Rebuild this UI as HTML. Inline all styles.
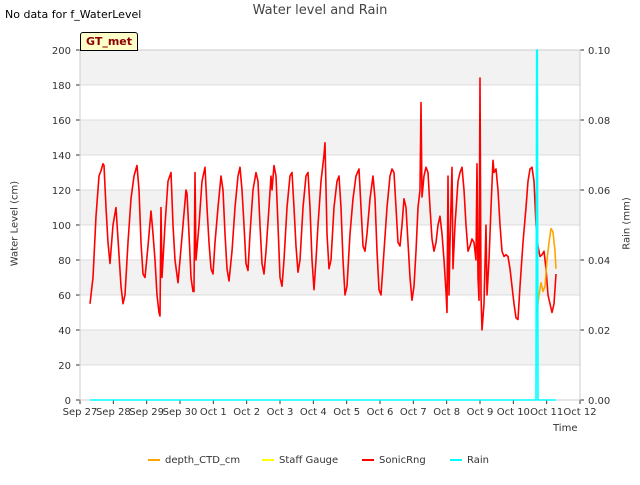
<!DOCTYPE html>
<html><head><meta charset="utf-8"><style>
body{margin:0;background:#fff;font-family:"Liberation Sans","DejaVu Sans",sans-serif;}
svg text{font-family:"DejaVu Sans","Liberation Sans",sans-serif;}
</style></head><body>
<svg id="chart" width="640" height="480" xmlns="http://www.w3.org/2000/svg"></svg>
<script>
const xTickLabels=["Sep 27","Sep 28","Sep 29","Sep 30","Oct 1","Oct 2","Oct 3","Oct 4","Oct 5","Oct 6","Oct 7","Oct 8","Oct 9","Oct 10","Oct 11","Oct 12"];
const yTicks=[0,20,40,60,80,100,120,140,160,180,200];
const y2Ticks=[0,0.02,0.04,0.06,0.08,0.10];
const sonicDays=[0.30,.39,.48,.57,.63,.69,.72,.78,.84,.90,.99,1.08,1.14,1.23,1.29,1.35,1.44,1.53,1.62,1.71,1.77,1.83,1.89,1.95,2.04,2.13,2.19,2.25,2.31,2.37,2.40,2.43,2.46,2.55,2.64,2.73,2.79,2.85,2.94,3.00,3.09,3.18,3.21,3.27,3.33,3.39,3.42,3.45,3.48,3.57,3.66,3.75,3.81,3.87,3.93,3.99,4.05,4.14,4.23,4.29,4.35,4.41,4.47,4.56,4.65,4.74,4.80,4.86,4.92,4.98,5.04,5.10,5.19,5.28,5.34,5.40,5.46,5.52,5.58,5.67,5.73,5.76,5.82,5.88,5.94,6.00,6.06,6.12,6.21,6.30,6.36,6.42,6.48,6.54,6.60,6.69,6.78,6.84,6.90,6.96,7.02,7.08,7.14,7.23,7.32,7.35,7.41,7.47,7.53,7.62,7.71,7.77,7.83,7.89,7.95,8.01,8.10,8.19,8.28,8.37,8.43,8.49,8.55,8.61,8.70,8.79,8.85,8.91,8.97,9.03,9.12,9.21,9.30,9.36,9.42,9.48,9.54,9.60,9.66,9.72,9.78,9.84,9.90,9.96,10.02,10.08,10.14,10.20,10.23,10.26,10.32,10.38,10.44,10.50,10.56,10.62,10.68,10.74,10.80,10.86,10.92,10.98,11.01,11.04,11.07,11.10,11.16,11.19,11.25,11.34,11.40,11.46,11.52,11.58,11.64,11.70,11.76,11.82,11.88,11.91,11.94,11.97,12.00,12.03,12.06,12.12,12.18,12.21,12.27,12.33,12.39,12.42,12.48,12.54,12.60,12.66,12.72,12.78,12.84,12.90,12.96,13.02,13.08,13.14,13.20,13.29,13.38,13.44,13.50,13.56,13.62,13.68,13.74,13.80,13.86,13.92,13.98,14.04,14.10,14.16,14.22,14.28];
const sonicValues=[55,70,105,128,131,135,134,110,90,78,100,110,92,65,55,60,90,115,128,134,120,90,72,70,88,108,95,80,60,50,48,110,70,100,125,130,100,80,67,80,100,120,118,95,70,62,62,130,80,100,125,133,110,90,75,72,90,110,128,120,95,75,68,85,110,128,133,120,100,78,74,95,120,130,125,100,78,72,85,110,128,120,134,128,100,70,65,80,110,128,130,110,88,73,80,110,128,130,110,80,63,80,100,125,140,147,95,75,80,110,125,128,110,80,60,65,95,115,128,132,110,88,85,95,115,128,115,85,63,60,85,110,128,132,130,110,90,88,100,115,110,90,70,57,65,85,110,120,170,116,128,133,130,110,92,85,90,100,105,95,80,62,50,128,60,90,133,75,100,125,130,133,120,100,85,88,92,90,80,135,70,57,184,60,40,55,100,60,80,110,137,130,132,120,100,85,82,83,82,75,65,55,47,46,65,90,110,125,132,133,125,100,88,82,83,85,75,60,55,50,55,72];
const ctdDays=[13.71,13.77,13.83,13.89,13.95,14.01,14.07,14.13,14.19,14.25,14.28];
const ctdValues=[50,60,67,62,65,80,90,98,96,85,75];
const rainDays=[0.30,13.68,13.70,13.72,13.74,14.28];
const rainValues=[0,0,0.1,0.1,0,0];
const bandStarts=[20,60,100,140,180];

const NS="http://www.w3.org/2000/svg",svg=document.getElementById('chart');
const L=80,R=580,T=50,B=400;
const xs=d=>L+d*(R-L)/15, ys=v=>B-v*(B-T)/200, ys2=v=>B-v*(B-T)/0.1;
function el(tag,attrs,txt){const e=document.createElementNS(NS,tag);for(const k in attrs)e.setAttribute(k,attrs[k]);if(txt!==undefined)e.textContent=txt;svg.appendChild(e);return e;}
let bg=el('rect',{x:L,y:T,width:R-L,height:B-T,fill:'#fff'});


bandStarts.forEach(v=>{const r=el('rect',{x:L,y:ys(v+20),width:R-L,height:ys(v)-ys(v+20),fill:'#f2f2f2'});

});
yTicks.forEach(v=>{const g=el('line',{x1:L,x2:R,y1:ys(v),y2:ys(v),stroke:'#dcdcdc','stroke-width':1});


const t=el('text',{x:L-9,y:ys(v)+4,'text-anchor':'end','font-size':10,fill:'#333'},v);


el('line',{x1:L-4,x2:L,y1:ys(v),y2:ys(v),stroke:'#333'});});
y2Ticks.forEach(v=>{const t=el('text',{x:R+8,y:ys2(v)+4,'font-size':10,fill:'#333'},v.toFixed(2));


el('line',{x1:R,x2:R+4,y1:ys2(v),y2:ys2(v),stroke:'#333'});});
xTickLabels.forEach((s,i)=>{const t=el('text',{x:xs(i),y:B+15,'text-anchor':'middle','font-size':10,fill:'#333'},s);


el('line',{x1:xs(i),x2:xs(i),y1:B,y2:B+4,stroke:'#333'});});
let fr=el('rect',{x:L,y:T,width:R-L,height:B-T,fill:'none',stroke:'#ccc'});


function line(days,vals,sc,color,w,name){const p=el('polyline',{points:days.map((d,i)=>xs(d)+','+sc(vals[i])).join(' '),fill:'none',stroke:color,'stroke-width':w,'stroke-linejoin':'round'});

}
line(sonicDays,sonicValues,ys,'#ff0000',1.6,'sonicrng-line');
line(ctdDays,ctdValues,ys,'#ffa500',1.6,'depth-ctd-line');
line(rainDays,rainValues,ys2,'#00ffff',1.6,'rain-line');
</script>
<div style="position:absolute;left:0;top:3px;width:640px;text-align:center;font-size:13px;color:#444;font-family:'DejaVu Sans',sans-serif">Water level and Rain</div>
<div style="position:absolute;left:5px;top:8px;font-size:11px;color:#000;font-family:'DejaVu Sans',sans-serif">No data for f_WaterLevel</div>
<div style="position:absolute;left:80px;top:32px;width:56px;height:17px;background:#ffffc8;border:1px solid #000;border-radius:3px 3px 0 0;font-size:11px;font-weight:bold;color:#8b0000;text-align:center;line-height:17px;font-family:'DejaVu Sans',sans-serif">GT_met</div>
<div style="position:absolute;left:-35px;top:218px;width:100px;text-align:center;transform:rotate(-90deg);font-size:10px;color:#333;font-family:'DejaVu Sans',sans-serif">Water Level (cm)</div>
<div style="position:absolute;left:587px;top:218px;width:80px;text-align:center;transform:rotate(-90deg);font-size:10px;color:#333;font-family:'DejaVu Sans',sans-serif">Rain (mm)</div>
<div style="position:absolute;left:553px;top:423px;font-size:10px;color:#333;font-family:'DejaVu Sans',sans-serif">Time</div>
<div style="position:absolute;left:0;top:455px;width:640px;font-size:10px;color:#333;font-family:'DejaVu Sans',sans-serif">
<span style="position:absolute;left:148px"><span style="display:inline-block;width:12px;height:2px;background:#ffa500;vertical-align:middle;margin-right:5px"></span>depth_CTD_cm</span>
<span style="position:absolute;left:262px"><span style="display:inline-block;width:12px;height:2px;background:#ffff00;vertical-align:middle;margin-right:5px"></span>Staff Gauge</span>
<span style="position:absolute;left:362px"><span style="display:inline-block;width:12px;height:2px;background:#ff0000;vertical-align:middle;margin-right:5px"></span>SonicRng</span>
<span style="position:absolute;left:450px"><span style="display:inline-block;width:12px;height:2px;background:#00ffff;vertical-align:middle;margin-right:5px"></span>Rain</span>
</div>
</body></html>
